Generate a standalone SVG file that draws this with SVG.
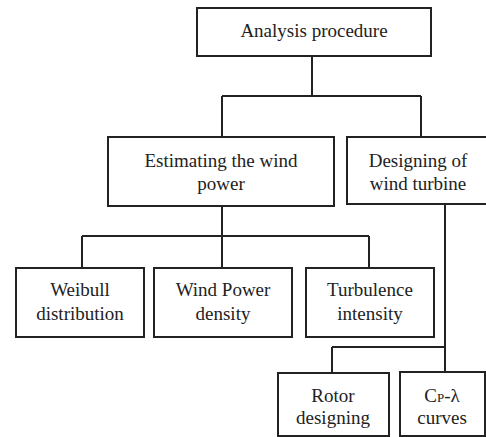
<svg xmlns="http://www.w3.org/2000/svg" width="486" height="437" viewBox="0 0 486 437">
<style>
.box{fill:#fff;stroke:#222;stroke-width:2}
.t{font-family:'Liberation Serif',Tinos,'Times New Roman','DejaVu Serif',serif;font-size:19px;fill:#222;text-anchor:middle}
.c{fill:none;stroke:#222;stroke-width:2}
</style>
<rect width="486" height="437" fill="#fff"/>
<g id="connectors">
<path class="c" d="M312 56V96M222 96H421M222 96V137M421 96V137"/>
<path class="c" d="M222 206V236M82 236H369M82 236V268M222 236V268M369 236V268"/>
<path class="c" d="M445 204V372M332 347H445M332 347V373"/>
</g>
<g id="analysis">
<rect class="box" x="197" y="8" width="234" height="48"/>
<text class="t" x="314" y="37">Analysis procedure</text>
</g>
<g id="estimating">
<rect class="box" x="108" y="137" width="226" height="69"/>
<text class="t" x="221" y="167">Estimating the wind</text>
<text class="t" x="221" y="190">power</text>
</g>
<g id="designing">
<rect class="box" x="347" y="137" width="145" height="67"/>
<text class="t" x="418" y="167">Designing of</text>
<text class="t" x="418" y="190">wind turbine</text>
</g>
<g id="weibull">
<rect class="box" x="16" y="268" width="128" height="69"/>
<text class="t" x="80" y="296">Weibull</text>
<text class="t" x="80" y="320">distribution</text>
</g>
<g id="windpower">
<rect class="box" x="154" y="268" width="138" height="69"/>
<text class="t" x="223" y="296">Wind Power</text>
<text class="t" x="223" y="320">density</text>
</g>
<g id="turbulence">
<rect class="box" x="306" y="268" width="128" height="69"/>
<text class="t" x="370" y="296">Turbulence</text>
<text class="t" x="370" y="320">intensity</text>
</g>
<g id="rotor">
<rect class="box" x="278" y="373" width="111" height="63"/>
<text class="t" x="333" y="402">Rotor</text>
<text class="t" x="333" y="424">designing</text>
</g>
<g id="cp">
<rect class="box" x="400" y="372" width="85" height="64"/>
<text class="t" x="442" y="402">C<tspan font-size="13">P</tspan>-λ</text>
<text class="t" x="442" y="424">curves</text>
</g>
</svg>
